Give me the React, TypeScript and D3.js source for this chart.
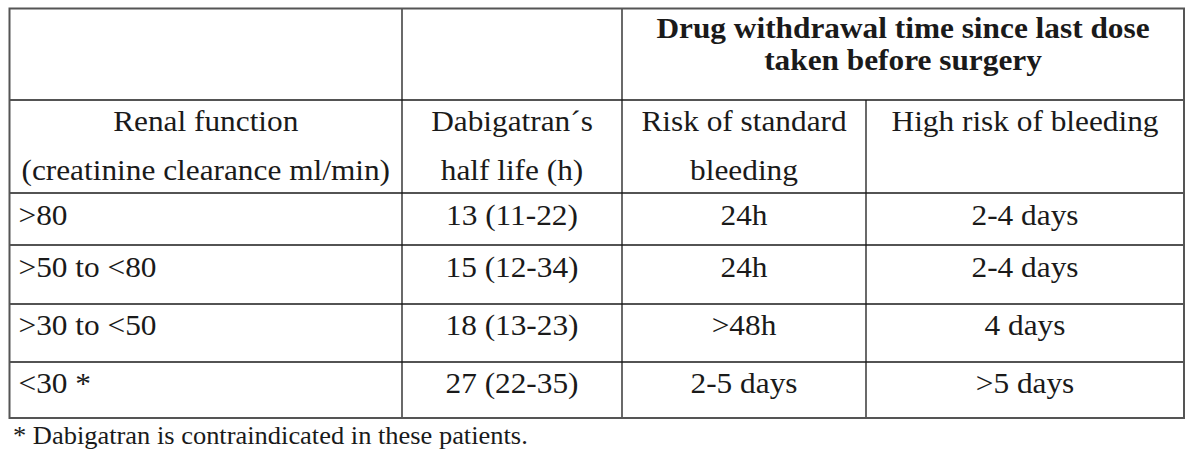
import React from "react";
import * as d3 from "d3";

const groupHeader = ["Drug withdrawal time since last dose", "taken before surgery"];
const columnHeaders = [
  ["Renal function", "(creatinine clearance ml/min)"],
  ["Dabigatran\u00b4s", "half life (h)"],
  ["Risk of standard", "bleeding"],
  ["High risk of bleeding"],
];
const renalFunction = [">80", ">50 to <80", ">30 to <50", "<30 *"];
const halfLife = ["13 (11-22)", "15 (12-34)", "18 (13-23)", "27 (22-35)"];
const standardRisk = ["24h", "24h", ">48h", "2-5 days"];
const highRisk = ["2-4 days", "2-4 days", "4 days", ">5 days"];
const footnote = "* Dabigatran is contraindicated in these patients.";

// layout
const W = 1200;
const H = 463;
const colEdges = [9.5, 402, 622, 866, 1184];
const rowEdges = [8.5, 100, 193, 245, 304, 362, 418];
const FONT = "'Liberation Serif', 'Times New Roman', serif";
const FS = 29;
const SX = 1.08;

function T({ x, y, anchor = "middle", size = FS, bold = false, children }: any) {
  return (
    <text
      transform={`translate(${x},${y}) scale(${SX},1)`}
      textAnchor={anchor}
      fontSize={size}
      fontWeight={bold ? "bold" : "normal"}
    >
      {children}
    </text>
  );
}

export default function App() {
  const rows = renalFunction.map((r, i) => [r, halfLife[i], standardRisk[i], highRisk[i]]);
  const colIdx = d3.range(columnHeaders.length);
  const x = d3.scaleOrdinal<number, number>().domain(d3.range(colEdges.length)).range(colEdges);
  const y = d3.scaleOrdinal<number, number>().domain(d3.range(rowEdges.length)).range(rowEdges);
  const cx = (c: number) => (x(c) + x(c + 1)) / 2;
  const outer = "#555";
  const inner = "#1a1a1a";
  const osw = 2;
  const isw = 1.3;

  const headBase = [38, 70];
  const colHeadBase = [131, 180];
  const dataBase = [225, 277, 335, 393];

  return (
    <div style={{ position: "absolute", left: 0, top: 0 }}>
      <svg width={W} height={H} style={{ display: "block", background: "#fff" }}>
        <rect x={0} y={0} width={W} height={H} fill="#fff" />
        {/* inner horizontal lines */}
        {d3.range(1, rowEdges.length - 1).map((r) => (
          <line key={"h" + r} x1={x(0)} x2={x(4)} y1={y(r)} y2={y(r)} stroke={inner} strokeWidth={isw} />
        ))}
        {/* inner vertical lines */}
        {[1, 2].map((c) => (
          <line key={"v" + c} x1={x(c)} x2={x(c)} y1={y(0)} y2={y(6)} stroke={inner} strokeWidth={isw} />
        ))}
        <line x1={x(3)} x2={x(3)} y1={y(1)} y2={y(6)} stroke={inner} strokeWidth={isw} />
        {/* outer border */}
        <rect x={x(0)} y={y(0)} width={x(4) - x(0)} height={y(6) - y(0)} fill="none" stroke={outer} strokeWidth={osw} />

        <g fontFamily={FONT} fill="#1a1a1a">
          {groupHeader.map((t, i) => (
            <T key={"g" + i} x={(x(2) + x(4)) / 2} y={headBase[i]} bold>
              {t}
            </T>
          ))}
          {colIdx.map((c) =>
            columnHeaders[c].map((t, i) => (
              <T key={"ch" + c + i} x={cx(c)} y={colHeadBase[i]}>
                {t}
              </T>
            ))
          )}
          {rows.map((row, r) =>
            row.map((v, c) => (
              <T key={"d" + r + c} x={c === 0 ? x(0) + 9 : cx(c)} y={dataBase[r]} anchor={c === 0 ? "start" : "middle"}>
                {v}
              </T>
            ))
          )}
          <T x={13} y={444} anchor="start" size={24.5}>
            {footnote}
          </T>
        </g>
      </svg>
    </div>
  );
}
